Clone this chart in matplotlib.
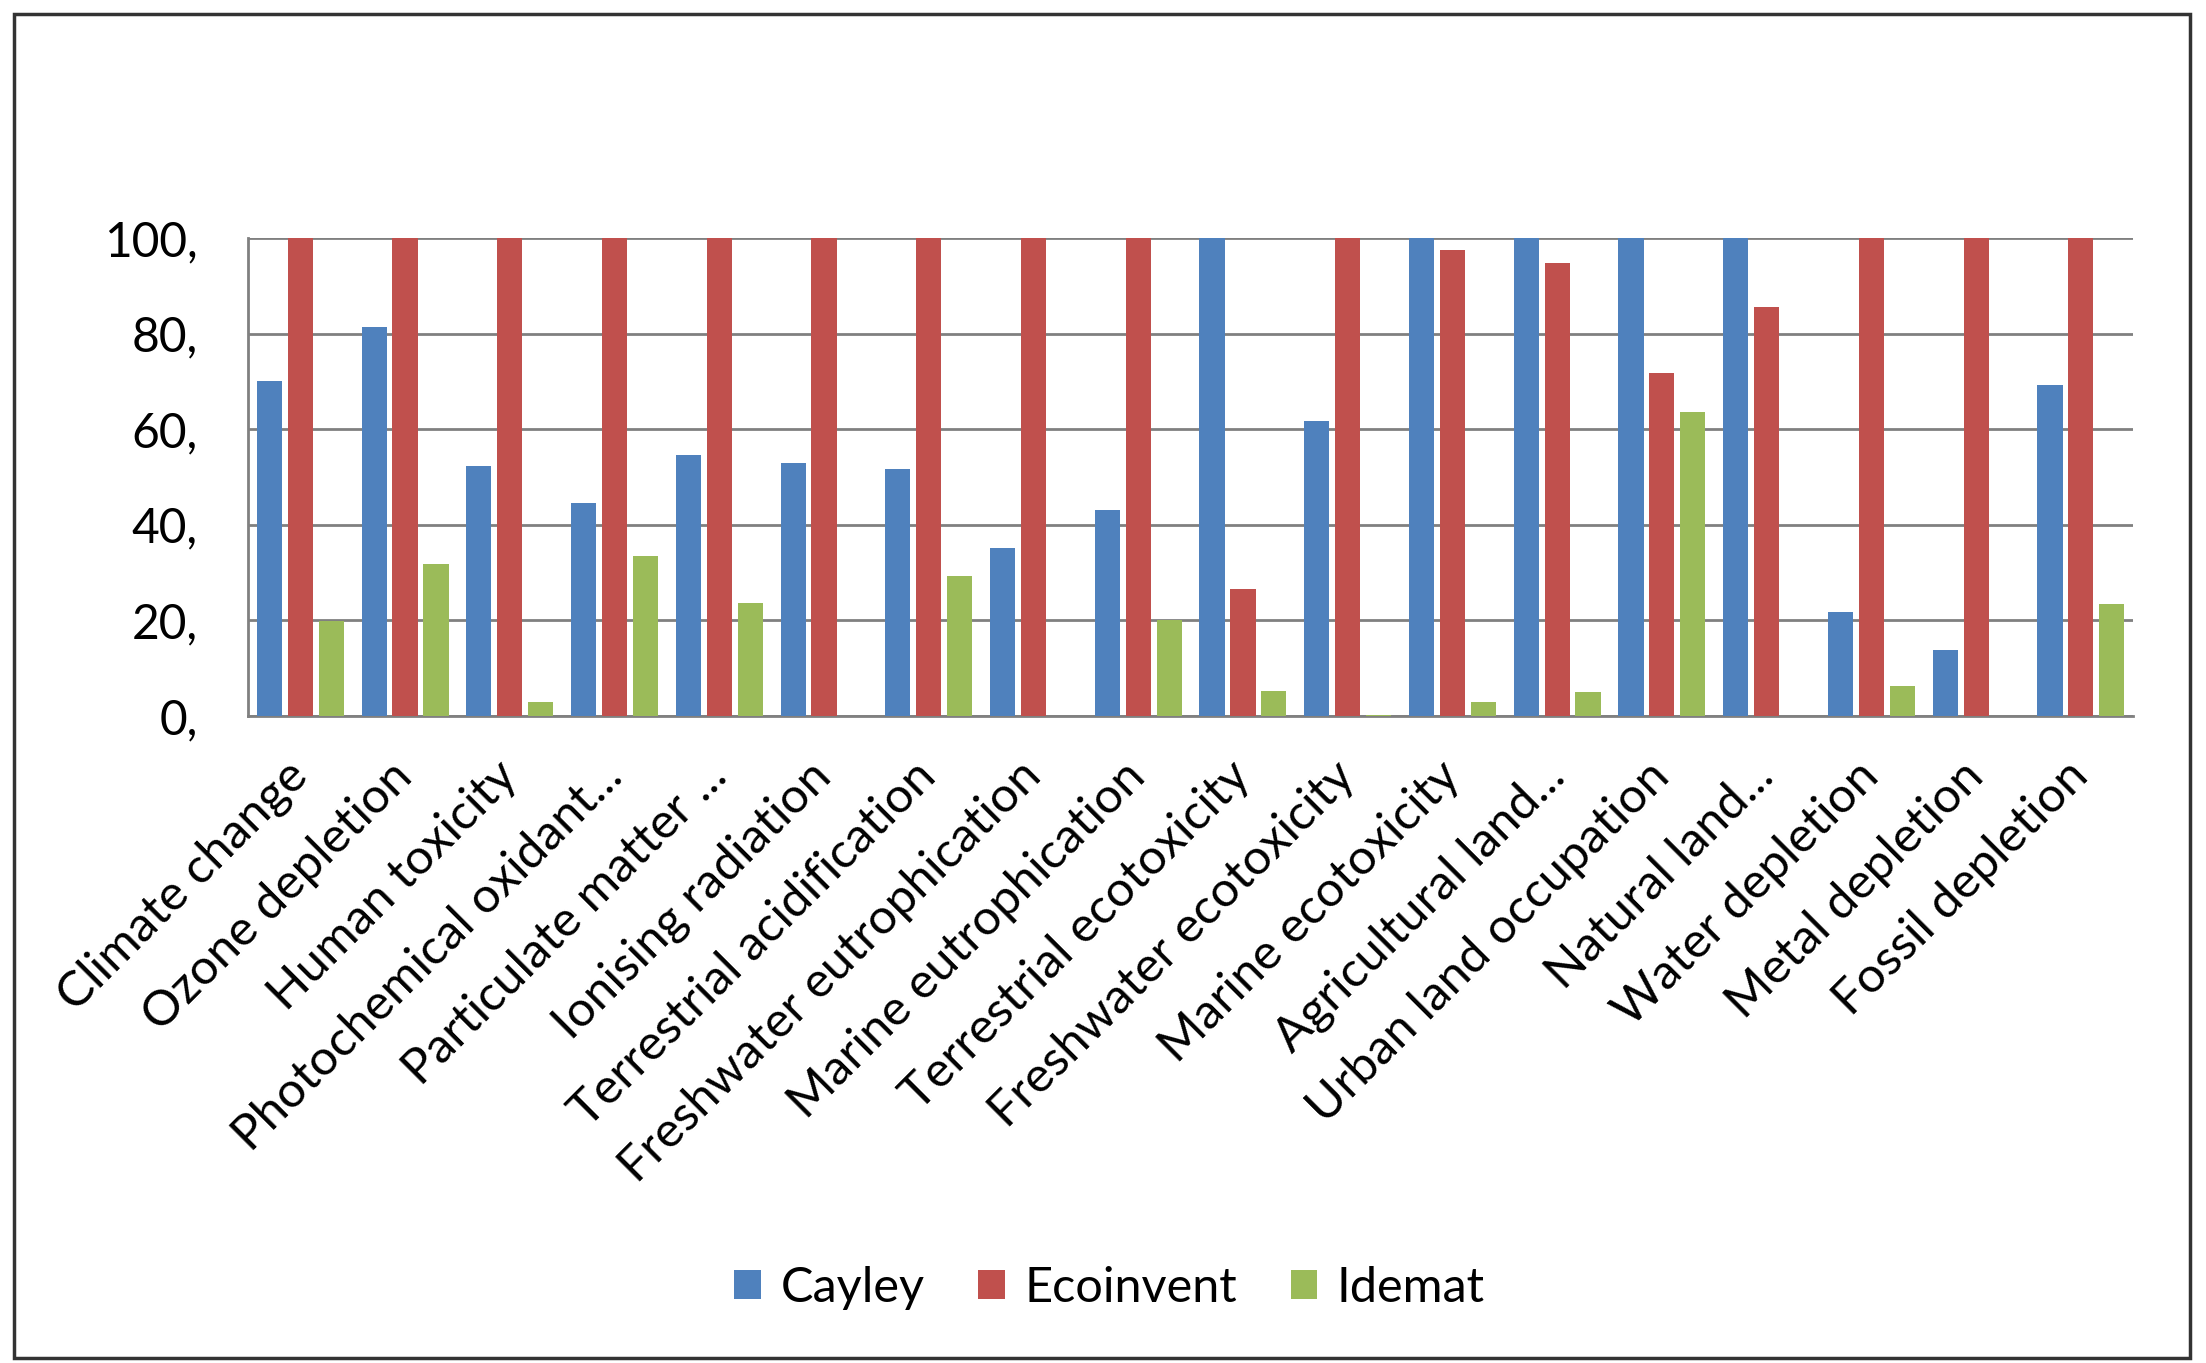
import numpy as np
import matplotlib.pyplot as plt
from matplotlib.patches import Rectangle
from matplotlib.ticker import FuncFormatter

categories = ['Climate change', 'Ozone depletion', 'Human toxicity',
              'Photochemical oxidant...', 'Particulate matter ...',
              'Ionising radiation', 'Terrestrial acidification',
              'Freshwater eutrophication', 'Marine eutrophication',
              'Terrestrial ecotoxicity', 'Freshwater ecotoxicity',
              'Marine ecotoxicity', 'Agricultural land...',
              'Urban land occupation', 'Natural land...', 'Water depletion',
              'Metal depletion', 'Fossil depletion']

cayley = [70.0, 81.3, 52.4, 44.5, 54.6, 52.9, 51.7, 35.1, 43.1,
          100, 61.8, 100, 100, 100, 100, 21.8, 13.8, 69.3]
ecoinvent = [100, 100, 100, 100, 100, 100, 100, 100, 100,
             26.5, 100, 97.5, 94.8, 71.8, 85.6, 100, 100, 100]
idemat = [19.8, 31.9, 3.0, 33.5, 23.6, 0, 29.2, 0, 20.0,
          5.2, 0.3, 3.0, 5.0, 63.6, 0, 6.3, 0, 23.5]

series = ['Cayley', 'Ecoinvent', 'Idemat']
colors = ['#4F81BD', '#C0504D', '#9BBB59']

plt.rcParams['font.family'] = ['Lato', 'DejaVu Sans']

fig = plt.figure(figsize=(22.06, 13.63), dpi=100)
ax = fig.add_axes([0.1124, 0.4747, 0.8546, 0.3507])

x = np.arange(len(categories))
w = 0.24
step = 0.295
for i, (vals, name, c) in enumerate(zip([cayley, ecoinvent, idemat], series, colors)):
    ax.bar(x + (i - 1) * step, vals, width=w, color=c, label=name, zorder=3)

ax.set_xlim(-0.5, len(categories) - 0.5)
ax.set_ylim(0, 100)
ax.set_yticks([0, 20, 40, 60, 80, 100])
ax.yaxis.set_major_formatter(FuncFormatter(lambda v, p: f'{int(v)},'))
ax.grid(axis='y', color='#808080', linewidth=2, zorder=0)
ax.tick_params(axis='y', length=0, labelsize=34.5, pad=36)
ax.tick_params(axis='x', length=0, pad=38)
ax.set_xticks(x)
ax.set_xticklabels(categories, rotation=45, ha='right', va='center',
                   rotation_mode='anchor', fontsize=35.5)
for s in ['top', 'right']:
    ax.spines[s].set_visible(False)
for s in ['left', 'bottom']:
    ax.spines[s].set_color('#808080')
    ax.spines[s].set_linewidth(2)

ax.legend(loc='center', bbox_to_anchor=(0.503, 0.055), bbox_transform=fig.transFigure,
          ncol=3, frameon=False, fontsize=35, handlelength=0.55, handleheight=0.55,
          handletextpad=0.4, columnspacing=1.1)

fig.patches.append(Rectangle((0.0063, 0.004), 0.9865, 0.986, transform=fig.transFigure,
                             fill=False, edgecolor='#333333', linewidth=2.5))

fig.savefig('out.png', dpi=100)
